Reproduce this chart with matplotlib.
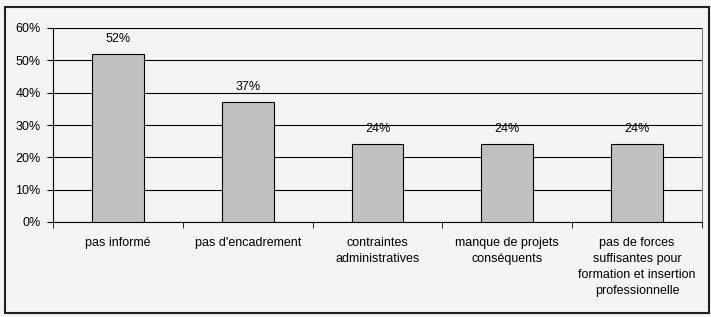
import matplotlib.pyplot as plt
from matplotlib.patches import Rectangle

categories = ['pas informé', "pas d'encadrement", 'contraintes\nadministratives',
              'manque de projets\nconséquents',
              'pas de forces\nsuffisantes pour\nformation et insertion\nprofessionnelle']
values = [52, 37, 24, 24, 24]
yticks = [0, 10, 20, 30, 40, 50, 60]

plt.rcParams['font.family'] = ['Liberation Sans', 'DejaVu Sans']
bg = '#f4f4f4'
fig = plt.figure(figsize=(7.11, 3.17), dpi=100, facecolor=bg)
fig.patches.append(Rectangle((5 / 317 * 317 / 711, 4 / 317), 704 / 711, 306 / 317,
                             transform=fig.transFigure, fill=False,
                             edgecolor='#202020', linewidth=1.5))
ax = fig.add_axes([53 / 711, 1 - 222 / 317, 649 / 711, 194 / 317])
ax.set_facecolor(bg)

x = range(len(values))
ax.bar(x, values, width=0.4, color='#c0c0c0', edgecolor='black', linewidth=0.8, zorder=3)
for xi, v in zip(x, values):
    ax.text(xi, v + 2.8, f'{v}%', ha='center', va='bottom', fontsize=9)

ax.set_ylim(0, 60)
ax.set_xlim(-0.5, len(values) - 0.5)
ax.set_yticks(yticks)
ax.set_yticklabels([f'{t}%' for t in yticks], fontsize=9)
ax.yaxis.grid(True, color='black', linewidth=0.8, zorder=0)
ax.set_xticks(list(x))
ax.set_xticklabels(categories, fontsize=9, linespacing=1.45, va='top')
ax.tick_params(axis='x', length=0, pad=11)
ax.set_xticks([i + 0.5 for i in range(-1, len(values))], minor=True)
ax.tick_params(axis='x', which='minor', length=4, direction='out')
ax.tick_params(axis='y', length=4, direction='out', pad=5)
ax.spines['top'].set_visible(False)
ax.spines['right'].set_color('#808080')
ax.spines['left'].set_color('black')
ax.spines['bottom'].set_color('black')

fig.savefig('out.png', dpi=100, facecolor=fig.get_facecolor())
